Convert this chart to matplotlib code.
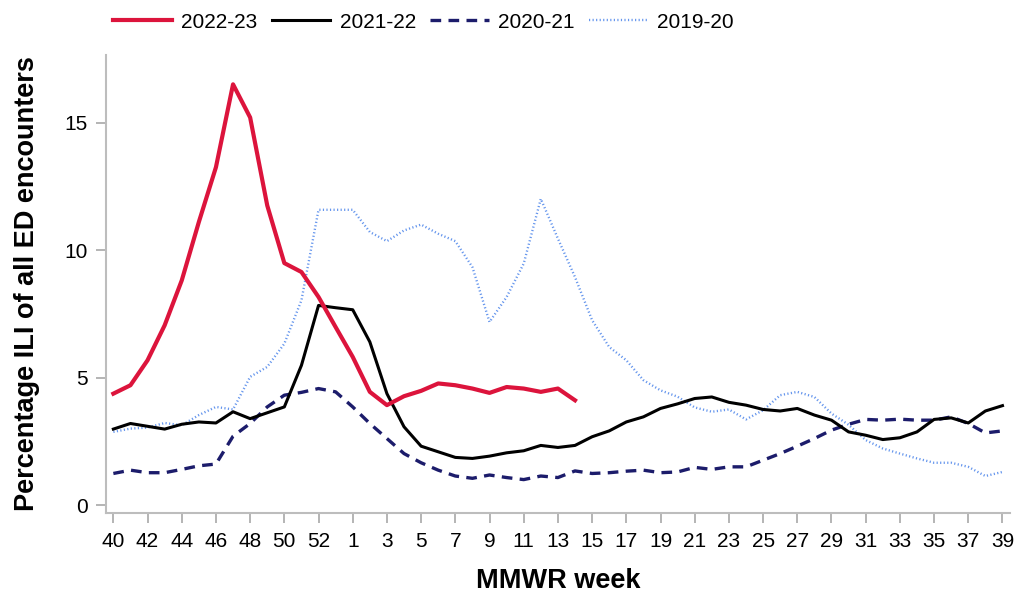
import matplotlib
matplotlib.use("Agg")
import matplotlib.pyplot as plt

plt.rcParams['font.family'] = ['Liberation Sans', 'DejaVu Sans']

weeks = [str(w) for w in list(range(40, 54)) + list(range(1, 40))]

s2022_23 = [4.37, 4.70, 5.68, 7.05, 8.81, 11.1, 13.25, 16.5, 15.2, 11.75, 9.49, 9.14,
            8.16, 6.98, 5.81, 4.44, 3.92, 4.27, 4.48, 4.77, 4.70, 4.57, 4.40, 4.63,
            4.57, 4.44, 4.57, 4.11]

s2021_22 = [2.98, 3.20, 3.09, 2.98, 3.17, 3.26, 3.22, 3.66, 3.39, 3.62, 3.85, 5.48,
            7.83, 7.74, 7.66, 6.40, 4.37, 3.07, 2.31, 2.09, 1.87, 1.83, 1.92, 2.05,
            2.13, 2.34, 2.26, 2.34, 2.68, 2.91, 3.26, 3.46, 3.79, 3.97, 4.18, 4.24,
            4.03, 3.92, 3.75, 3.69, 3.79, 3.53, 3.33, 2.87, 2.74, 2.57, 2.64, 2.87,
            3.36, 3.42, 3.22, 3.69, 3.90]

s2020_21 = [1.24, 1.37, 1.27, 1.27, 1.40, 1.54, 1.61, 2.70, 3.20, 3.85, 4.31, 4.42,
            4.57, 4.44, 3.85, 3.20, 2.61, 2.02, 1.66, 1.37, 1.14, 1.05, 1.18, 1.08,
            1.00, 1.14, 1.08, 1.34, 1.24, 1.27, 1.33, 1.37, 1.27, 1.30, 1.48, 1.40,
            1.50, 1.50, 1.76, 2.02, 2.31, 2.61, 2.94, 3.17, 3.36, 3.33, 3.37, 3.33,
            3.33, 3.46, 3.20, 2.83, 2.91]

s2019_20 = [2.87, 3.00, 3.04, 3.22, 3.13, 3.53, 3.85, 3.75, 5.03, 5.42, 6.33, 8.03,
            11.58, 11.58, 11.58, 10.71, 10.35, 10.77, 11.0, 10.64, 10.35, 9.33, 7.18, 8.16,
            9.47, 12.01, 10.45, 8.94, 7.25, 6.20, 5.68, 4.90, 4.50, 4.25, 3.83, 3.66,
            3.75, 3.36, 3.72, 4.31, 4.44, 4.24, 3.59, 3.15, 2.55, 2.22, 2.02, 1.83,
            1.66, 1.66, 1.50, 1.14, 1.30]

yticks = [0, 5, 10, 15]

fig = plt.figure(figsize=(10.21, 6.03), dpi=100)
ax = fig.add_axes([106/1021, 1-513/603, (1010-106)/1021, (513-55)/603])

x_all = list(range(len(weeks)))
ax.plot(x_all[:len(s2022_23)], s2022_23, color='#DC143C', lw=3.0, label='2022-23', zorder=5)
ax.plot(x_all[:len(s2021_22)], s2021_22, color='black', lw=2.2, label='2021-22', zorder=4)
ax.plot(x_all[:len(s2020_21)], s2020_21, color='#1C1C6B', lw=2.4, ls=(0, (3.2, 2.2)), label='2020-21', zorder=3)
ax.plot(x_all[:len(s2019_20)], s2019_20, color='#6495ED', lw=1.7, ls=(0, (0.5, 1.0)), label='2019-20', zorder=2)

ax.set_xlim(-0.43, 52.44)
ax.set_ylim(-0.31, 17.65)
ax.set_xticks(x_all[::2])
ax.set_xticklabels(weeks[::2])
ax.set_yticks(yticks)
ax.set_yticklabels([str(v) for v in yticks])

for s in ['top', 'right']:
    ax.spines[s].set_visible(False)
for s in ['left', 'bottom']:
    ax.spines[s].set_color('#BDBDBD')
    ax.spines[s].set_linewidth(1.5)
ax.tick_params(axis='both', colors='#A8A8A8', labelcolor='black', labelsize=15, length=7, width=1.2)
ax.tick_params(axis='x', pad=7)
ax.tick_params(axis='y', pad=6)

ax.set_xlabel('MMWR week', fontsize=19.5, fontweight='bold', labelpad=12)
ax.set_ylabel('Percentage ILI of all ED encounters', fontsize=19.5, fontweight='bold', labelpad=18)

fig.legend(loc='center left', bbox_to_anchor=(105/1021, 1-22/603), ncol=4, frameon=False,
           fontsize=15, handlelength=2.8, handletextpad=0.45, columnspacing=0.7, borderaxespad=0)

fig.savefig('out.png', dpi=100)
